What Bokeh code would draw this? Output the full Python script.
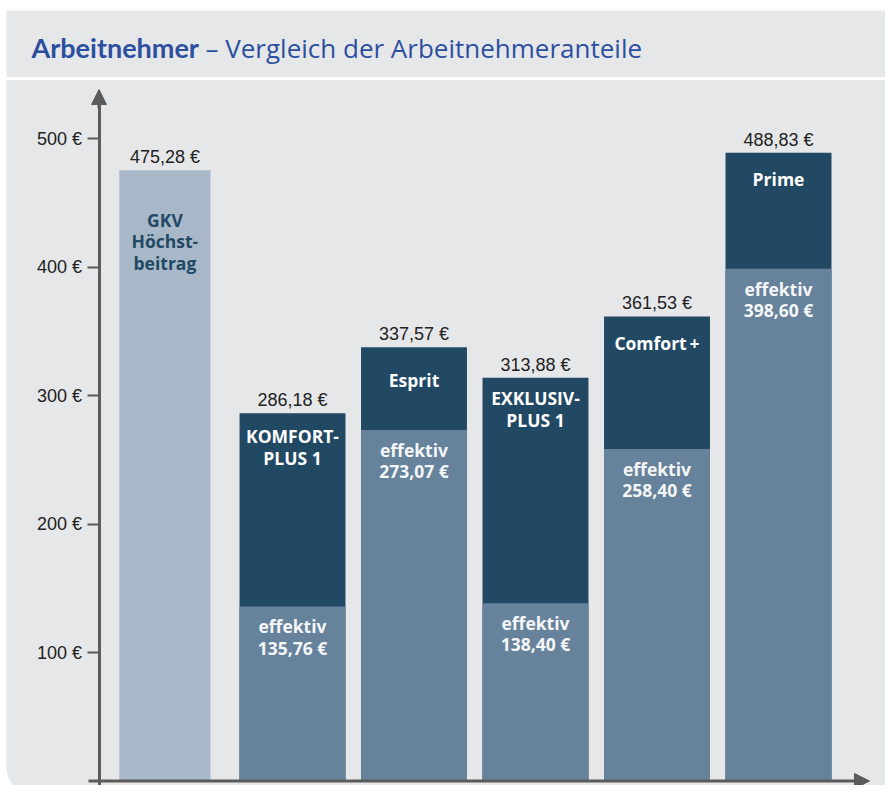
from bokeh.plotting import figure
from bokeh.models import (Range1d, LinearAxis, FixedTicker, PrintfTickFormatter,
                          Arrow, NormalHead, BoxAnnotation, ColumnDataSource, Label)
from bokeh.core.properties import value
from bokeh.embed import file_html
from bokeh.resources import INLINE

# ---------------- data ----------------
plans = ["GKV", "KOMFORT-PLUS 1", "Esprit", "EXKLUSIV-PLUS 1", "Comfort +", "Prime"]
plan_labels = ["GKV\nHöchst-\nbeitrag", "KOMFORT-\nPLUS 1", "Esprit",
               "EXKLUSIV-\nPLUS 1", "Comfort\u2009+", "Prime"]
total_contribution = [475.28, 286.18, 337.57, 313.88, 361.53, 488.83]
effective_contribution = [None, 135.76, 273.07, 138.40, 258.40, 398.60]
y_ticks = [100, 200, 300, 400, 500]
title_bold = "Arbeitnehmer"
title_rest = "– Vergleich der Arbeitnehmeranteile"

# ---------------- style / layout ----------------
W, H = 885, 785
PX_PER_EUR = 1.285
ZERO_PX = 780.5      # canvas y of 0 €
X_UNIT = 121.5       # px per bar slot
X1_PX = 292          # canvas x of slot 1

PANEL = "#e6e7e9"
DARK = "#224964"
MID = "#67829b"
LIGHT = "#a8b8c9"
AXIS = "#5b5b5b"
TITLE_BLUE = "#2c4f9f"
TXT = "#222222"

bar_offsets = [-0.05, 0, 0, 0, 0, 0]
bar_widths = [0.75, 0.872, 0.872, 0.872, 0.872, 0.872]
name_first_line = [50, 23, 33, 21, 27, 26]   # px below bar top of first label line
LINE_PX = 21
INNER_SIZE = 17.5
LH = LINE_PX / (INNER_SIZE * 1.336)


def dx(px):
    return 1 + (px - X1_PX) / X_UNIT


def dy(py):
    return (ZERO_PX - py) / PX_PER_EUR


def eur(v):
    return f"{v:.2f}".replace(".", ",") + " €"


p = figure(width=W, height=H, output_backend="svg", toolbar_location=None,
           x_range=Range1d(dx(0), dx(W)), y_range=Range1d(dy(H), dy(0)),
           x_axis_type=None, y_axis_type=None, min_border=0,
           background_fill_color="white", border_fill_color="white",
           outline_line_color=None)
p.xgrid.visible = False
p.ygrid.visible = False

# header band and panel
p.add_layout(BoxAnnotation(left=dx(6), right=dx(W + 10), top=dy(10), bottom=dy(76.5),
                           fill_color=PANEL, fill_alpha=1, line_color=None, level="underlay"))
p.add_layout(BoxAnnotation(left=dx(6), right=dx(W + 10), top=dy(79.5), bottom=dy(H + 10),
                           fill_color=PANEL, fill_alpha=1, line_color=None, level="underlay",
                           border_radius=(0, 0, 0, 28)))

# title
p.add_layout(Label(x=dx(31), y=dy(47), text=title_bold, text_font="Lato",
                   text_font_style="bold", text_font_size="27px", text_color=TITLE_BLUE,
                   text_baseline="middle"))
p.add_layout(Label(x=dx(205), y=dy(47), text=title_rest, text_font="Open Sans",
                   text_font_size="26px", text_color=TITLE_BLUE, text_baseline="middle"))

# bars
xs = [i + o for i, o in enumerate(bar_offsets)]
colors = [LIGHT] + [DARK] * 5
name_colors = [DARK] + ["white"] * 5
name_offsets = [f + lbl.count("\n") * LINE_PX / 2 for f, lbl in zip(name_first_line, plan_labels)]
src = ColumnDataSource(dict(
    x=xs, top=total_contribution, w=bar_widths, color=colors, plan=plans,
    total_lbl=[eur(v) for v in total_contribution], name=plan_labels,
    name_color=name_colors, name_off=name_offsets,
))
p.vbar(x="x", top="top", bottom=0, width="w", fill_color="color", line_color=None, source=src)

eff_idx = [i for i, v in enumerate(effective_contribution) if v is not None]
esrc = ColumnDataSource(dict(
    x=[xs[i] for i in eff_idx],
    top=[effective_contribution[i] for i in eff_idx],
    w=[bar_widths[i] for i in eff_idx],
    lbl=["effektiv\n" + eur(effective_contribution[i]) for i in eff_idx],
))
p.vbar(x="x", top="top", bottom=0, width="w", fill_color=MID, line_color=None, source=esrc)

# labels
p.text(x="x", y="top", text="total_lbl", source=src, text_align="center",
       text_baseline="middle", y_offset=-13, text_font=value("Liberation Sans"),
       text_font_size="18px", text_color=TXT)
p.text(x="x", y="top", text="name", source=src, text_align="center",
       text_baseline="middle", y_offset="name_off", text_font=value("Open Sans"),
       text_font_style="bold", text_font_size=f"{INNER_SIZE}px", text_color="name_color",
       text_line_height=LH)
p.text(x="x", y="top", text="lbl", source=esrc, text_align="center",
       text_baseline="middle", y_offset=20 + LINE_PX / 2, text_font=value("Open Sans"),
       text_font_style="bold", text_font_size=f"{INNER_SIZE}px", text_color="#f4f6f8",
       text_line_height=LH)

# axes
yaxis = LinearAxis(fixed_location=dx(98.5), bounds=(dy(H + 10), dy(104)),
                   ticker=FixedTicker(ticks=y_ticks),
                   formatter=PrintfTickFormatter(format="%d €"),
                   axis_line_width=3, axis_line_color=AXIS,
                   major_tick_line_color=AXIS, major_tick_line_width=2,
                   major_tick_out=12, major_tick_in=0, minor_tick_line_color=None,
                   major_label_text_font="Liberation Sans", major_label_text_font_size="18px",
                   major_label_text_color=TXT, major_label_standoff=5)
p.add_layout(yaxis, "left")
p.add_layout(Arrow(x_start=dx(98.5), y_start=dy(108), x_end=dx(98.5), y_end=dy(89),
                   line_width=3, line_color=AXIS,
                   end=NormalHead(size=15, fill_color=AXIS, line_color=AXIS, line_width=1)))
p.add_layout(Arrow(x_start=dx(88), y_start=0, x_end=dx(869), y_end=0,
                   line_width=3, line_color=AXIS,
                   end=NormalHead(size=15, fill_color=AXIS, line_color=AXIS, line_width=1)))

open("out.html", "w").write(file_html(p, INLINE))
